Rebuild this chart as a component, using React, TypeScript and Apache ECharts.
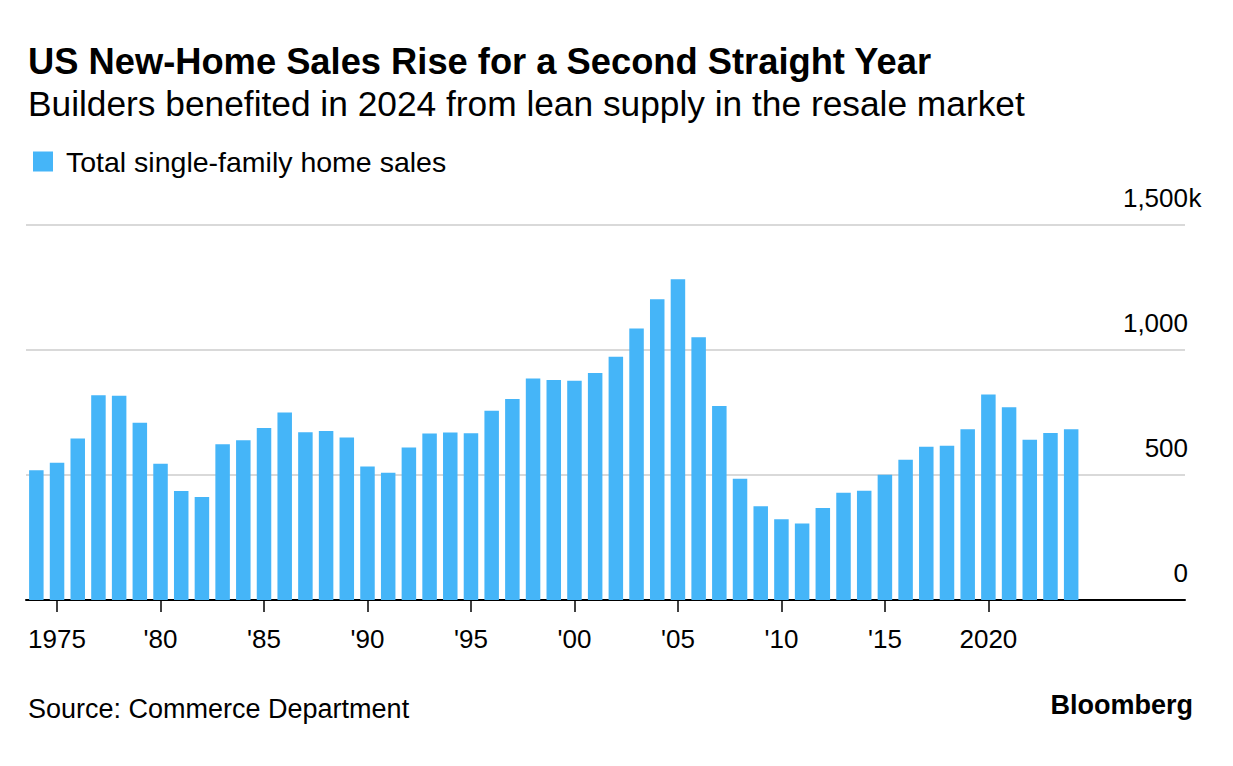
import React, { useEffect, useRef } from "react";
import * as echarts from "echarts";

const years: string[] = [];
for (let y = 1974; y <= 2029; y++) years.push(String(y));

const sales: (number | null)[] = [
  519, 549, 646, 819, 817, 709, 545, 436, 412, 623,
  639, 688, 750, 671, 676, 650, 534, 509, 610, 666,
  670, 667, 757, 804, 886, 880, 877, 908, 973, 1086,
  1203, 1283, 1051, 776, 485, 375, 323, 306, 368, 429,
  437, 501, 561, 613, 617, 683, 822, 771, 641, 668,
  683,
];

const tickLabels: Record<string, string> = {
  "1975": "1975",
  "1980": "'80",
  "1985": "'85",
  "1990": "'90",
  "1995": "'95",
  "2000": "'00",
  "2005": "'05",
  "2010": "'10",
  "2015": "'15",
  "2020": "2020",
};

const FONT = "'Liberation Sans', Arial, Helvetica, sans-serif";
const BAR = "#45b5f8";

export default function App() {
  const ref = useRef<HTMLDivElement>(null);
  useEffect(() => {
    document.body.style.margin = "0";
    if (!ref.current) return;
    const chart = echarts.init(ref.current, null, { renderer: "svg" });
    const isTick = (_i: number, v: string) => tickLabels[v] !== undefined;
    chart.setOption({
      animation: false,
      backgroundColor: "#ffffff",
      textStyle: { fontFamily: FONT },
      title: [
        {
          text: "US New-Home Sales Rise for a Second Straight Year",
          left: 28,
          top: 43,
          padding: 0,
          textStyle: { fontFamily: FONT, fontSize: 36.3, fontWeight: "bold", color: "#000" },
        },
        {
          text: "Builders benefited in 2024 from lean supply in the resale market",
          left: 28,
          top: 86,
          padding: 0,
          textStyle: { fontFamily: FONT, fontSize: 35.3, fontWeight: "normal", color: "#000" },
        },
        {
          text: "Source: Commerce Department",
          left: 28,
          top: 695,
          padding: 0,
          textStyle: { fontFamily: FONT, fontSize: 27, fontWeight: "normal", color: "#000" },
        },
        {
          text: "Bloomberg",
          right: 40,
          top: 691,
          padding: 0,
          textStyle: { fontFamily: FONT, fontSize: 27, fontWeight: "bold", color: "#000" },
        },
      ],
      legend: {
        left: 28,
        top: 142,
        icon: "rect",
        itemWidth: 20,
        itemHeight: 20,
        itemGap: 10,
        textStyle: { fontFamily: FONT, fontSize: 28.5, color: "#000", padding: [0, 0, 0, 8] },
        data: ["Total single-family home sales"],
      },
      grid: { left: 26, right: 48, top: 225, bottom: 166, containLabel: false },
      xAxis: {
        type: "category",
        data: years,
        boundaryGap: true,
        axisLine: { show: true, lineStyle: { color: "#000", width: 2 } },
        axisTick: {
          show: true,
          alignWithLabel: true,
          interval: isTick,
          length: 12,
          lineStyle: { color: "#000", width: 1.5 },
        },
        axisLabel: {
          interval: isTick,
          formatter: (v: string) => tickLabels[v] ?? "",
          fontFamily: FONT,
          fontSize: 26,
          color: "#000",
          margin: 26,
        },
        splitLine: { show: false },
      },
      yAxis: {
        type: "value",
        position: "right",
        min: 0,
        max: 1500,
        interval: 500,
        axisLine: { show: false },
        axisTick: { show: false },
        splitLine: { show: true, lineStyle: { color: "#d9d9d9", width: 2 } },
        axisLabel: {
          inside: true,
          margin: -17,
          verticalAlign: "bottom",
          padding: [0, 0, 14, 0],
          fontFamily: FONT,
          fontSize: 26,
          color: "#000",
          formatter: (v: number) => {
            const s = v.toLocaleString("en-US");
            return "{n|" + s + "}{k|" + (v === 1500 ? "k" : " ") + "}";
          },
          rich: {
            n: { fontFamily: FONT, fontSize: 26, color: "#000" },
            k: { fontFamily: FONT, fontSize: 26, color: "#000", width: 14, align: "left" },
          },
        },
      },
      series: [
        {
          name: "Total single-family home sales",
          type: "bar",
          data: sales,
          barWidth: 14.5,
          itemStyle: { color: BAR },
        },
      ],
    });
    return () => chart.dispose();
  }, []);
  return <div ref={ref} style={{ width: 1233, height: 766 }} />;
}
